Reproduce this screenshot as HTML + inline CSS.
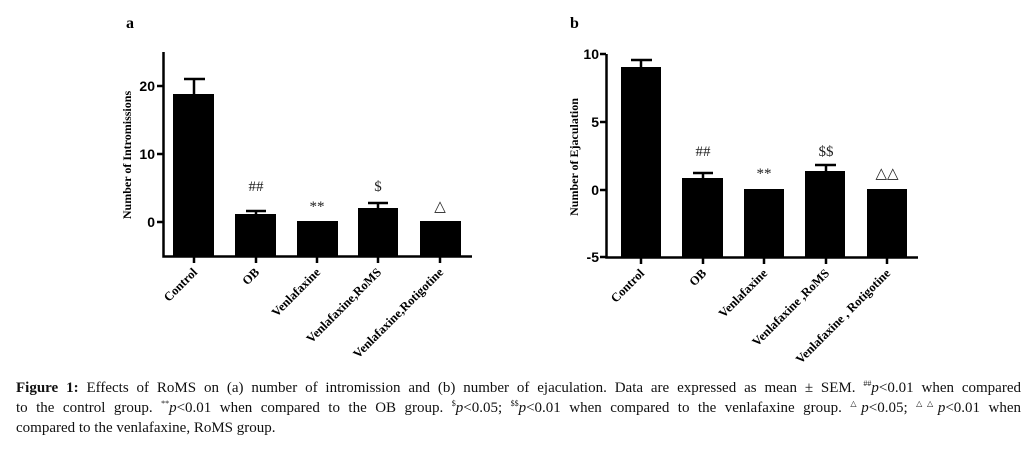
<!DOCTYPE html>
<html><head><style>
body{margin:0;background:#fff;width:1027px;height:452px;overflow:hidden;position:relative}
svg{position:absolute;left:0;top:0}
.cap{position:absolute;left:16px;top:378px;width:1005px;font-family:"Liberation Serif",serif;font-size:15px;line-height:20px;color:#111}
.cap div{text-align:justify;text-align-last:justify;white-space:nowrap}
.cap div.l{text-align-last:left}
sup{font-size:8px;line-height:0}
</style></head><body>
<svg width="1027" height="370" font-family="Liberation Serif, serif">
<g fill="#000">
<text x="126" y="28" font-size="16" font-weight="bold">a</text>
<text x="570" y="28" font-size="16" font-weight="bold">b</text>
</g>
<g stroke="#000" stroke-width="2.5" fill="none">
<path d="M163.5 52V256.5H472"/>
<path d="M157 86H163M157 154H163M157 222H163"/>
<path d="M194 256V263M256 256V263M317 256V263M378 256V263M440 256V263"/>
<path d="M194 94V79M184 79H205"/>
<path d="M256 214V211M246 211H266"/>
<path d="M378 208V203M368 203H388"/>
</g>
<g fill="#000">
<rect x="173" y="94" width="41" height="162"/>
<rect x="235" y="214" width="41" height="42"/>
<rect x="297" y="221" width="41" height="35"/>
<rect x="358" y="208" width="40" height="48"/>
<rect x="420" y="221" width="41" height="35"/>
</g>
<g font-family="Liberation Sans, sans-serif" font-weight="bold" font-size="14" text-anchor="end">
<text x="155" y="91">20</text><text x="155" y="159">10</text><text x="155" y="227">0</text>
</g>
<text transform="translate(131,155) rotate(-90)" font-size="12" font-weight="bold" text-anchor="middle">Number of Intromissions</text>
<g font-size="15" text-anchor="middle" fill="#222">
<text x="256" y="191">##</text><text x="317" y="211">**</text><text x="378" y="191">$</text><text x="440" y="211">△</text>
</g>
<g font-size="12.5" font-weight="bold" text-anchor="end">
<text transform="translate(198,273) rotate(-45)">Control</text>
<text transform="translate(260,273) rotate(-45)">OB</text>
<text transform="translate(321,273) rotate(-45)">Venlafaxine</text>
<text transform="translate(382,273) rotate(-45)">Venlafaxine,RoMS</text>
<text transform="translate(444,273) rotate(-45)">Venlafaxine,Rotigotine</text>
</g>
<g stroke="#000" stroke-width="2.5" fill="none">
<path d="M606.5 54V257.5H918"/>
<path d="M600 54H606M600 122H606M600 190H606M600 257H606"/>
<path d="M641 257V264M703 257V264M764 257V264M826 257V264M887 257V264"/>
<path d="M641 67V60M631 60H652"/>
<path d="M703 178V173M693 173H713"/>
<path d="M826 171V165M815 165H836"/>
</g>
<g fill="#000">
<rect x="621" y="67" width="40" height="190"/>
<rect x="682" y="178" width="41" height="79"/>
<rect x="744" y="189" width="40" height="68"/>
<rect x="805" y="171" width="40" height="86"/>
<rect x="867" y="189" width="40" height="68"/>
</g>
<g font-family="Liberation Sans, sans-serif" font-weight="bold" font-size="14" text-anchor="end">
<text x="599" y="59">10</text><text x="599" y="127">5</text><text x="599" y="195">0</text><text x="599" y="262">-5</text>
</g>
<text transform="translate(578,157) rotate(-90)" font-size="12" font-weight="bold" text-anchor="middle">Number of Ejaculation</text>
<g font-size="15" text-anchor="middle" fill="#222">
<text x="703" y="156">##</text><text x="764" y="178">**</text><text x="826" y="156">$$</text><text x="887" y="178">△△</text>
</g>
<g font-size="12.5" font-weight="bold" text-anchor="end">
<text transform="translate(645,274) rotate(-45)">Control</text>
<text transform="translate(707,274) rotate(-45)">OB</text>
<text transform="translate(768,274) rotate(-45)">Venlafaxine</text>
<text transform="translate(830,274) rotate(-45)">Venlafaxine ,RoMS</text>
<text transform="translate(891,274) rotate(-45)">Venlafaxine , Rotigotine</text>
</g>
</svg>
<div class="cap">
<div><b>Figure 1:</b> Effects of RoMS on (a) number of intromission and (b) number of ejaculation. Data are expressed as mean ± SEM. <sup>##</sup><i>p</i>&lt;0.01 when compared</div>
<div>to the control group. <sup>**</sup><i>p</i>&lt;0.01 when compared to the OB group. <sup>$</sup><i>p</i>&lt;0.05; <sup>$$</sup><i>p</i>&lt;0.01 when compared to the venlafaxine group. <sup>△</sup><i>p</i>&lt;0.05; <sup>△△</sup><i>p</i>&lt;0.01 when</div>
<div class="l">compared to the venlafaxine, RoMS group.</div>
</div>
</body></html>
